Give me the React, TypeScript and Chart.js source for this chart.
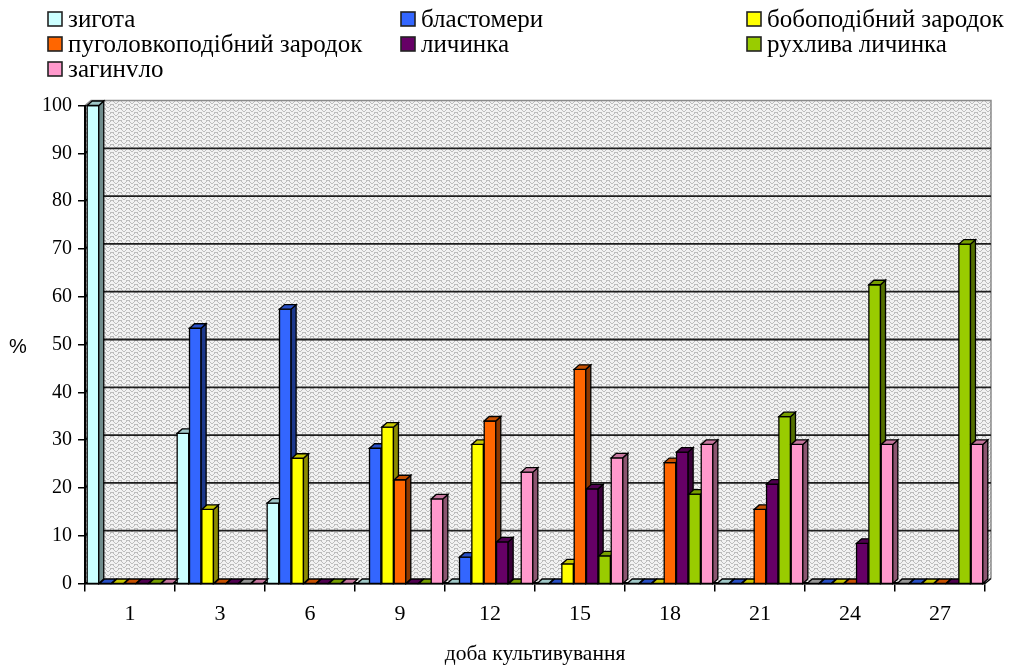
import React, { useEffect, useRef } from "react";
import { Chart, registerables } from "chart.js";

Chart.register(...registerables);

// Days of cultivation
const days = ["1", "3", "6", "9", "12", "15", "18", "21", "24", "27"];

// Share of embryos at each stage, % (null = no record for that day)
const zygote = [100, 31.4, 16.8, 0, 0, 0, 0, 0, null, null];
const blastomeres = [0, 53.4, 57.4, 28.3, 5.5, 0, 0, 0, 0, 0];
const bobEmbryo = [0, 15.5, 26.2, 32.7, 29.1, 4.1, 0, 0, 0, 0];
const tadpoleEmbryo = [0, 0, 0, 21.7, 34, 44.8, 25.3, 15.5, 0, 0];
const larva = [0, 0, 0, 0, 8.7, 19.8, 27.5, 20.8, 8.4, 0];
const motileLarva = [0, null, 0, 0, 0, 5.8, 18.7, 34.9, 62.5, 71];
const died = [0, 0, 0, 17.7, 23.3, 26.3, 29.1, 29.1, 29.1, 29.1];

const seriesLabels = [
  "зигота",
  "бластомери",
  "бобоподібний зародок",
  "пуголовкоподібний зародок",
  "личинка",
  "рухлива личинка",
  "загинvло",
];
const seriesColors = ["#ccffff", "#3366ff", "#ffff00", "#ff6600", "#660066", "#99cc00", "#ff99cc"];
const seriesData = [zygote, blastomeres, bobEmbryo, tadpoleEmbryo, larva, motileLarva, died];

const yTicks = [0, 10, 20, 30, 40, 50, 60, 70, 80, 90, 100];

const SERIF = "'Liberation Serif', 'Times New Roman', serif";
const SANS = "'Liberation Sans', Arial, sans-serif";

// depth of the bars and of the walls
const BDX = 5;
const BDY = 4.5;
const WDX = 6;
const WDY = 5;

function shade(hex: string, f: number): string {
  const n = parseInt(hex.slice(1), 16);
  const r = Math.round(((n >> 16) & 255) * f);
  const g = Math.round(((n >> 8) & 255) * f);
  const b = Math.round((n & 255) * f);
  return `rgb(${r},${g},${b})`;
}

function makeWallPattern(ctx: CanvasRenderingContext2D): CanvasPattern | string {
  const c = document.createElement("canvas");
  c.width = 8;
  c.height = 8;
  const p = c.getContext("2d");
  if (!p) return "#dcdcdc";
  p.fillStyle = "#f2f2f2";
  p.fillRect(0, 0, 8, 8);
  // grey herringbone weave
  p.fillStyle = "#bdbdbd";
  const cells = [
    [0, 0], [1, 1], [2, 2], [5, 2], [6, 1], [7, 0],
    [0, 4], [1, 5], [2, 6], [5, 6], [6, 5], [7, 4],
    [3, 3], [4, 3], [3, 7], [4, 7],
    [1, 0], [6, 0], [1, 4], [6, 4],
  ];
  for (const [x, y] of cells) p.fillRect(x, y, 1, 1);
  return ctx.createPattern(c, "repeat") || "#dcdcdc";
}

function poly(ctx: CanvasRenderingContext2D, pts: number[][], fill: string) {
  ctx.beginPath();
  ctx.moveTo(pts[0][0], pts[0][1]);
  for (let i = 1; i < pts.length; i++) ctx.lineTo(pts[i][0], pts[i][1]);
  ctx.closePath();
  ctx.fillStyle = fill;
  ctx.fill();
  ctx.stroke();
}

const wallPlugin = {
  id: "wall3d",
  beforeDraw(chart: any) {
    const { ctx, chartArea: a } = chart;
    const y = chart.scales.y;
    ctx.save();
    ctx.fillStyle = makeWallPattern(ctx);
    ctx.beginPath();
    ctx.moveTo(a.left, a.bottom);
    ctx.lineTo(a.left, a.top);
    ctx.lineTo(a.left + WDX, a.top - WDY);
    ctx.lineTo(a.right + WDX, a.top - WDY);
    ctx.lineTo(a.right + WDX, a.bottom - WDY);
    ctx.lineTo(a.right, a.bottom);
    ctx.closePath();
    ctx.fill();

    ctx.strokeStyle = "#8c8c8c";
    ctx.lineWidth = 1.5;
    ctx.beginPath();
    ctx.moveTo(a.left, a.top);
    ctx.lineTo(a.left + WDX, a.top - WDY);
    ctx.lineTo(a.right + WDX, a.top - WDY);
    ctx.lineTo(a.right + WDX, a.bottom - WDY);
    ctx.stroke();

    ctx.strokeStyle = "#1e1e1e";
    ctx.lineWidth = 1.8;
    for (const v of yTicks) {
      if (v === 0 || v === 100) continue;
      const py = y.getPixelForValue(v);
      ctx.beginPath();
      ctx.moveTo(a.left, py);
      ctx.lineTo(a.left + WDX, py - WDY);
      ctx.lineTo(a.right + WDX, py - WDY);
      ctx.stroke();
    }
    // floor corner
    ctx.strokeStyle = "#000";
    ctx.lineWidth = 1.5;
    ctx.beginPath();
    ctx.moveTo(a.right, a.bottom);
    ctx.lineTo(a.right + WDX, a.bottom - WDY);
    ctx.stroke();
    ctx.restore();
  },
};

const bars3dPlugin = {
  id: "bars3d",
  beforeDatasetDraw() {
    return false;
  },
  afterDatasetsDraw(chart: any) {
    const { ctx } = chart;
    const base = chart.scales.y.getPixelForValue(0);
    ctx.save();
    ctx.lineWidth = 1.3;
    ctx.strokeStyle = "#000";
    ctx.lineJoin = "miter";
    chart.data.datasets.forEach((ds: any, di: number) => {
      const meta = chart.getDatasetMeta(di);
      const col = seriesColors[di];
      meta.data.forEach((el: any, i: number) => {
        const v = ds.data[i];
        const x0 = el.x - el.width / 2;
        const x1 = el.x + el.width / 2;
        if (v == null) {
          poly(ctx, [[x0, base], [x1, base], [x1 + BDX, base - BDY], [x0 + BDX, base - BDY]], "#959595");
          return;
        }
        const top = v > 0 ? el.y : base;
        if (v > 0) {
          ctx.beginPath();
          ctx.rect(x0, top, x1 - x0, base - top);
          ctx.fillStyle = col;
          ctx.fill();
          ctx.stroke();
          poly(ctx, [[x1, top], [x1 + BDX, top - BDY], [x1 + BDX, base - BDY], [x1, base]], shade(col, 0.55));
        }
        poly(ctx, [[x0, top], [x1, top], [x1 + BDX, top - BDY], [x0 + BDX, top - BDY]], shade(col, 0.78));
      });
    });
    ctx.restore();
  },
};

const labelsPlugin = {
  id: "legendAndTitles",
  afterDraw(chart: any) {
    const { ctx, chartArea: a } = chart;
    ctx.save();
    // legend: three columns, three rows
    const colX = [48, 401, 747];
    const rowBase = [27, 52, 77];
    ctx.font = `25px ${SERIF}`;
    ctx.textBaseline = "alphabetic";
    ctx.textAlign = "left";
    chart.data.datasets.forEach((ds: any, i: number) => {
      const bx = colX[i % 3];
      const by = rowBase[Math.floor(i / 3)];
      ctx.fillStyle = seriesColors[i];
      ctx.fillRect(bx, by - 15, 14, 14);
      ctx.strokeStyle = "#222";
      ctx.lineWidth = 1.6;
      ctx.strokeRect(bx, by - 15, 14, 14);
      ctx.fillStyle = "#000";
      ctx.fillText(ds.label, bx + 20, by);
    });
    // axis titles
    ctx.font = `21.5px ${SERIF}`;
    ctx.textAlign = "center";
    ctx.fillText("доба культивування", (a.left + a.right) / 2, 660);
    ctx.font = `20px ${SANS}`;
    ctx.fillText("%", 18, 353);
    ctx.restore();
  },
};

export default function App() {
  const ref = useRef<HTMLCanvasElement | null>(null);

  useEffect(() => {
    if (!ref.current) return;
    const chart = new Chart(ref.current, {
      type: "bar",
      data: {
        labels: days,
        datasets: seriesData.map((d, i) => ({
          label: seriesLabels[i],
          data: d,
          backgroundColor: seriesColors[i],
          borderWidth: 0,
          categoryPercentage: 0.96,
          barPercentage: 0.94,
        })),
      },
      options: {
        responsive: false,
        animation: false,
        devicePixelRatio: 1,
        layout: { padding: { top: 105.5, right: 32, bottom: 0, left: 0 } },
        plugins: {
          legend: { display: false },
          tooltip: { enabled: false },
        },
        scales: {
          x: {
            type: "category",
            offset: true,
            grid: { offset: true, drawOnChartArea: false, drawTicks: true, tickLength: 8, color: "#000", lineWidth: 1.5 },
            border: { display: true, color: "#000", width: 2.5 },
            ticks: { color: "#000", font: { family: SERIF, size: 22 }, padding: 10, maxRotation: 0 },
            afterFit(s: any) {
              s.height = 82.5;
            },
          },
          y: {
            min: 0,
            max: 100,
            grid: { drawOnChartArea: false, drawTicks: true, tickLength: 7, color: "#000", lineWidth: 1.5 },
            border: { display: true, color: "#000", width: 2 },
            ticks: { stepSize: 10, color: "#000", font: { family: SERIF, size: 20 }, padding: 6 },
            afterFit(s: any) {
              s.width = 85;
            },
          },
        },
      },
      plugins: [wallPlugin, bars3dPlugin, labelsPlugin],
    });
    return () => chart.destroy();
  }, []);

  return (
    <div style={{ position: "absolute", left: 0, top: 0, width: 1017, height: 666, background: "#fff" }}>
      <canvas ref={ref} width={1017} height={666} style={{ display: "block", width: 1017, height: 666 }} />
    </div>
  );
}
